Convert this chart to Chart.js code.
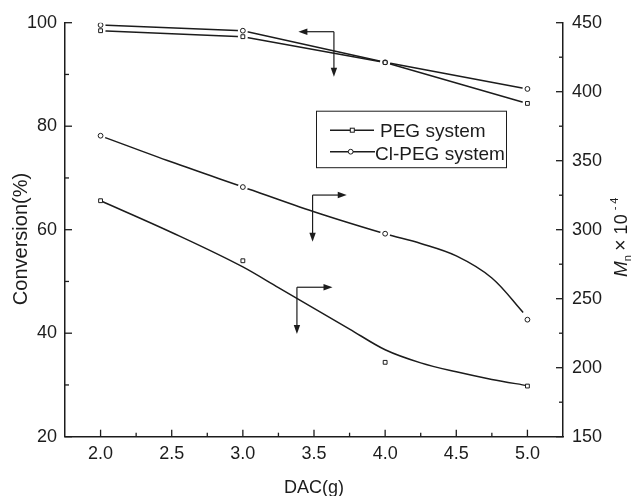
<!DOCTYPE html>
<html>
<head>
<meta charset="utf-8">
<script src="https://cdn.jsdelivr.net/npm/chart.js@4.4.1/dist/chart.umd.min.js"></script>
<style>
  html, body { margin: 0; padding: 0; background: #fff; }
  canvas { display: block; }
</style>
</head>
<body>
<canvas id="c" width="633" height="496" style="width:633px;height:496px"></canvas>
<script>
// ---- data ----
const dac = [2.0, 3.0, 4.0, 5.0];
const pegConversion   = [98.45, 97.3, 92.3, 84.4];
const clpegConversion = [99.55, 98.45, 92.35, 87.2];
const pegMn   = [321.0, 277.5, 203.9, 186.7];
const clpegMn = [368.1, 330.9, 297.1, 234.8];

// smoothed fit curves
const pegCurveX   = [2.0, 2.5, 3.0, 3.25, 3.5, 3.75, 4.0, 4.25, 4.5, 4.75, 5.0];
const pegCurveMn  = [321, 298, 273, 258, 243, 228, 213, 203.5, 197, 191.5, 187];
const clpegCurveX  = [2.0, 2.5, 3.0, 3.5, 4.0, 4.25, 4.5, 4.75, 4.97];
const clpegCurveMn = [368, 349, 331, 313, 297, 290, 281, 265, 240];

// axis ticks
const xMajorTicks = [2.0, 2.5, 3.0, 3.5, 4.0, 4.5, 5.0];
const xMinorTicks = [2.25, 2.75, 3.25, 3.75, 4.25, 4.75];
const yMajorTicks = [20, 40, 60, 80, 100];
const yMinorTicks = [30, 50, 70, 90];
const y2MajorTicks = [150, 200, 250, 300, 350, 400, 450];
const y2MinorTicks = [175, 225, 275, 325, 375, 425];

// annotation arrows: corner point, horizontal tip x, vertical tip value
const arrows = [
  { axis: 'y',  cx: 3.64, cy: 98.26, hx: 3.39, vy: 89.57 },
  { axis: 'y2', cx: 3.49, cy: 325.1, hx: 3.73, vy: 291.3 },
  { axis: 'y2', cx: 3.38, cy: 258.3, hx: 3.63, vy: 224.4 }
];

const seriesNames = ['PEG system', 'Cl-PEG system'];

const INK = '#1c1c1c';
const FONT = '"Liberation Sans", Arial, sans-serif';
Chart.defaults.font.family = FONT;
Chart.defaults.color = INK;

const pts = (xs, ys) => xs.map((v, i) => ({ x: v, y: ys[i] }));

function lineDs(data, axis, mode) {
  return {
    data, yAxisID: axis, borderColor: INK, borderWidth: 1.5,
    pointRadius: 0, fill: false, order: 3,
    tension: mode ? 0.35 : 0,
    cubicInterpolationMode: mode === 'monotone' ? 'monotone' : 'default'
  };
}
function haloDs(data, axis) {
  return {
    data, yAxisID: axis, showLine: false, order: 2,
    pointRadius: 5, pointBorderWidth: 0,
    pointBackgroundColor: '#fff', pointBorderColor: '#fff'
  };
}
function markDs(data, axis, style) {
  return {
    data, yAxisID: axis, showLine: false, order: 1,
    pointStyle: style, pointRadius: style === 'rect' ? 2.7 : 2.4,
    pointBorderWidth: 1, pointBorderColor: INK, pointBackgroundColor: '#fff'
  };
}

const datasets = [
  lineDs(pts(dac, pegConversion), 'y', null),
  lineDs(pts(dac, clpegConversion), 'y', null),
  lineDs(pts(pegCurveX, pegCurveMn), 'y2', 'monotone'),
  lineDs(pts(clpegCurveX, clpegCurveMn), 'y2', 'bezier'),
  haloDs(pts(dac, pegConversion), 'y'),
  haloDs(pts(dac, clpegConversion), 'y'),
  haloDs(pts(dac, clpegMn), 'y2'),
  markDs(pts(dac, pegConversion), 'y', 'rect'),
  markDs(pts(dac, clpegConversion), 'y', 'circle'),
  markDs(pts(dac, pegMn), 'y2', 'rect'),
  markDs(pts(dac, clpegMn), 'y2', 'circle')
];

function setTicks(list) {
  return s => { s.ticks = list.map(v => ({ value: v })); };
}

const tickFont = { size: 18, family: FONT };

function arrowHead(ctx, x, y, dx, dy) {
  const L = 9, W = 3.2;
  const px = -dy, py = dx;
  ctx.beginPath();
  ctx.moveTo(x, y);
  ctx.lineTo(x - dx * L + px * W, y - dy * L + py * W);
  ctx.lineTo(x - dx * L - px * W, y - dy * L - py * W);
  ctx.closePath();
  ctx.fill();
}

const decor = {
  id: 'decor',
  afterDraw(chart) {
    const { ctx, chartArea: ca, scales } = chart;
    const sx = scales.x, sy = scales.y, sy2 = scales.y2;
    ctx.save();
    ctx.strokeStyle = INK;
    ctx.fillStyle = INK;
    ctx.lineWidth = 1.3;
    const seg = (x0, y0, x1, y1) => { ctx.beginPath(); ctx.moveTo(x0, y0); ctx.lineTo(x1, y1); ctx.stroke(); };

    // inward tick marks
    xMajorTicks.forEach(v => { const p = sx.getPixelForValue(v); seg(p, ca.bottom, p, ca.bottom - 7); });
    xMinorTicks.forEach(v => { const p = sx.getPixelForValue(v); seg(p, ca.bottom, p, ca.bottom - 4); });
    yMajorTicks.forEach(v => { const p = sy.getPixelForValue(v); seg(ca.left, p, ca.left + 7, p); });
    yMinorTicks.forEach(v => { const p = sy.getPixelForValue(v); seg(ca.left, p, ca.left + 4, p); });
    y2MajorTicks.forEach(v => { const p = sy2.getPixelForValue(v); seg(ca.right, p, ca.right - 7, p); });
    y2MinorTicks.forEach(v => { const p = sy2.getPixelForValue(v); seg(ca.right, p, ca.right - 4, p); });

    // arrows
    ctx.lineWidth = 1.2;
    arrows.forEach(a => {
      const ys = scales[a.axis];
      const cx = sx.getPixelForValue(a.cx), cy = ys.getPixelForValue(a.cy);
      const hx = sx.getPixelForValue(a.hx), vy = ys.getPixelForValue(a.vy);
      const dirH = Math.sign(hx - cx);
      seg(cx, cy, hx - dirH * 6, cy);
      arrowHead(ctx, hx, cy, dirH, 0);
      seg(cx, cy, cx, vy - 6);
      arrowHead(ctx, cx, vy, 0, 1);
    });

    // legend box
    const lx = ca.left + 251, ly = ca.top + 88;
    ctx.lineWidth = 1;
    ctx.strokeRect(lx + 0.5, ly + 0.5, 190, 56.5);
    ctx.lineWidth = 1.5;
    ctx.font = '19px ' + FONT;
    ctx.textBaseline = 'alphabetic';
    ctx.textAlign = 'left';
    // entry 1
    seg(lx + 14, ly + 19.5, lx + 58, ly + 19.5);
    ctx.fillStyle = '#fff'; ctx.lineWidth = 1;
    ctx.fillRect(lx + 34.3, ly + 17.5, 4, 4); ctx.strokeRect(lx + 34.3, ly + 17.5, 4, 4);
    ctx.fillStyle = INK;
    ctx.fillText(seriesNames[0], lx + 64, ly + 26);
    // entry 2
    ctx.lineWidth = 1.5;
    seg(lx + 14, ly + 41, lx + 59, ly + 41);
    ctx.fillStyle = '#fff'; ctx.lineWidth = 1;
    ctx.beginPath(); ctx.arc(lx + 34.7, ly + 41, 2.4, 0, Math.PI * 2); ctx.fill(); ctx.stroke();
    ctx.fillStyle = INK;
    ctx.fillText(seriesNames[1], lx + 59, ly + 49);

    // x title
    ctx.font = '18px ' + FONT;
    ctx.textAlign = 'center';
    ctx.fillText('DAC(g)', (ca.left + ca.right) / 2, 493);

    // left title
    ctx.save();
    ctx.translate(26.5, 239);
    ctx.rotate(-Math.PI / 2);
    ctx.font = '20px ' + FONT;
    ctx.textAlign = 'center';
    ctx.fillText('Conversion(%)', 0, 0);
    ctx.restore();

    // right title: M_n × 10^-4
    ctx.save();
    ctx.translate(627, 277);
    ctx.rotate(-Math.PI / 2);
    ctx.textAlign = 'left';
    let cur = 0;
    const piece = (txt, font, dy) => { ctx.font = font; ctx.fillText(txt, cur, dy); cur += ctx.measureText(txt).width; };
    piece('M', 'italic 19px ' + FONT, 0);
    piece('n', '11px ' + FONT, 4);
    cur += 4;
    piece('\u00D7', '20px ' + FONT, 0);
    cur += 5;
    piece('10', '18px ' + FONT, 0);
    cur += 4;
    piece('- 4', '11px ' + FONT, -9);
    ctx.restore();

    ctx.restore();
  }
};

new Chart(document.getElementById('c').getContext('2d'), {
  type: 'line',
  data: { datasets },
  plugins: [decor],
  options: {
    responsive: false,
    animation: false,
    devicePixelRatio: 1,
    layout: { padding: { top: 22.7, left: 0, right: 0, bottom: 0 } },
    plugins: { legend: { display: false }, tooltip: { enabled: false } },
    scales: {
      x: {
        type: 'linear', min: 1.75, max: 5.25,
        afterBuildTicks: setTicks(xMajorTicks),
        afterFit: s => { s.height = 59.3; },
        ticks: { callback: v => Number(v).toFixed(1), padding: 7, font: tickFont, color: INK, maxRotation: 0, autoSkip: false },
        grid: { display: false, drawTicks: false },
        border: { display: true, color: INK, width: 1.5 }
      },
      y: {
        type: 'linear', position: 'left', min: 20, max: 100,
        afterBuildTicks: setTicks(yMajorTicks),
        afterFit: s => { s.width = 65; },
        ticks: { padding: 8, font: tickFont, color: INK },
        grid: { display: false, drawTicks: false },
        border: { display: true, color: INK, width: 1.5 }
      },
      y2: {
        type: 'linear', position: 'right', min: 150, max: 450,
        afterBuildTicks: setTicks(y2MajorTicks),
        afterFit: s => { s.width = 70; },
        ticks: { padding: 9, font: tickFont, color: INK },
        grid: { display: false, drawTicks: false },
        border: { display: true, color: INK, width: 1.5 }
      }
    }
  }
});
</script>
</body>
</html>
